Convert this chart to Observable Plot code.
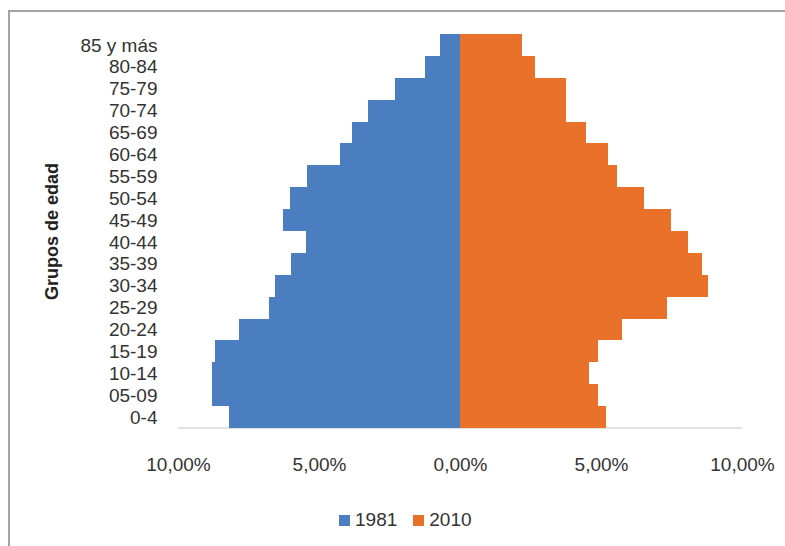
<!DOCTYPE html>
<html>
<head>
<meta charset="utf-8">
<script src="https://cdn.jsdelivr.net/npm/d3@7"></script>
<script src="https://cdn.jsdelivr.net/npm/@observablehq/plot@0.6"></script>
<style>
  body { margin: 0; background: #ffffff; }
  #wrap { position: relative; width: 785px; height: 546px; overflow: hidden; font-family: "Liberation Sans", Arial, sans-serif; }
  #frame { position: absolute; left: 8px; top: 10px; width: 900px; height: 700px; border-left: 2px solid #a3a3a3; border-top: 2px solid #a3a3a3; }
  #chart { position: absolute; left: 0; top: 0; }
  #legend { position: absolute; left: 339px; top: 509px; display: flex; align-items: center; font-size: 19px; color: #333; line-height: 22px; }
  #legend .sw { width: 11px; height: 11px; margin-right: 5px; }
  #legend .item { display: flex; align-items: center; margin-right: 16px; }
</style>
</head>
<body>
<div id="wrap">
  <div id="frame"></div>
  <div id="chart"></div>
  <div id="legend"></div>
</div>
<script>
// Age groups, top to bottom
const ageGroups = ["85 y más", "80-84", "75-79", "70-74", "65-69", "60-64", "55-59", "50-54", "45-49",
                   "40-44", "35-39", "30-34", "25-29", "20-24", "15-19", "10-14", "05-09", "0-4"];
// Share of total population (%) per age group
const share1981 = [0.71, 1.24, 2.30, 3.26, 3.83, 4.26, 5.43, 6.03, 6.28,
                   5.46, 5.99, 6.56, 6.77, 7.84, 8.69, 8.79, 8.79, 8.19];
const share2010 = [2.20, 2.66, 3.76, 3.76, 4.47, 5.25, 5.57, 6.52, 7.48,
                   8.09, 8.58, 8.80, 7.34, 5.74, 4.89, 4.57, 4.89, 5.18];
const years = ["1981", "2010"];
const yearColors = ["#4a7ec1", "#e9712a"];
const xTicks = [-10, -5, 0, 5, 10];

// 1981 drawn to the left (negative), 2010 to the right
const rows = [
  ...ageGroups.map((g, i) => ({group: g, year: "1981", value: -share1981[i]})),
  ...ageGroups.map((g, i) => ({group: g, year: "2010", value: share2010[i]}))
];

const fmt = d => Math.abs(d).toFixed(2).replace(".", ",") + "%";

// Light baseline under the bars, spanning the x domain
const baseline = (index, scales, values, dims) => {
  const y = dims.height - dims.marginBottom;
  const line = document.createElementNS("http://www.w3.org/2000/svg", "line");
  line.setAttribute("x1", scales.x(-10));
  line.setAttribute("x2", scales.x(10));
  line.setAttribute("y1", y);
  line.setAttribute("y2", y);
  line.setAttribute("stroke", "#d9d9d9");
  line.setAttribute("stroke-width", "1.5");
  return line;
};

const chart = Plot.plot({
  width: 785,
  height: 480,
  marginLeft: 178,
  marginRight: 43,
  marginTop: 34,
  marginBottom: 52,
  style: {fontFamily: "'Liberation Sans', Arial, sans-serif", fontSize: "19px", color: "#333", background: "transparent"},
  x: {domain: [-10, 10]},
  y: {domain: ageGroups, padding: 0, round: false},
  color: {domain: years, range: yearColors},
  marks: [
    baseline,
    Plot.barX(rows, {x: "value", y: "group", fill: "year", shapeRendering: "crispEdges"}),
    Plot.axisX(xTicks, {tickSize: 0, tickPadding: 29, tickFormat: fmt, label: null, fill: "#333"}),
    Plot.axisY({tickSize: 0, tickPadding: 21, label: null, fill: "#333"}),
    Plot.text(["Grupos de edad"], {frameAnchor: "left", textAnchor: "middle", dx: -126, rotate: -90, fontWeight: "bold", fontSize: 18, fill: "#222"})
  ]
});
document.getElementById("chart").appendChild(chart);

// Legend
const legend = document.getElementById("legend");
years.forEach((yr, i) => {
  const item = document.createElement("div");
  item.className = "item";
  const sw = document.createElement("div");
  sw.className = "sw";
  sw.style.background = yearColors[i];
  const label = document.createElement("span");
  label.textContent = yr;
  item.appendChild(sw);
  item.appendChild(label);
  legend.appendChild(item);
});
</script>
</body>
</html>
